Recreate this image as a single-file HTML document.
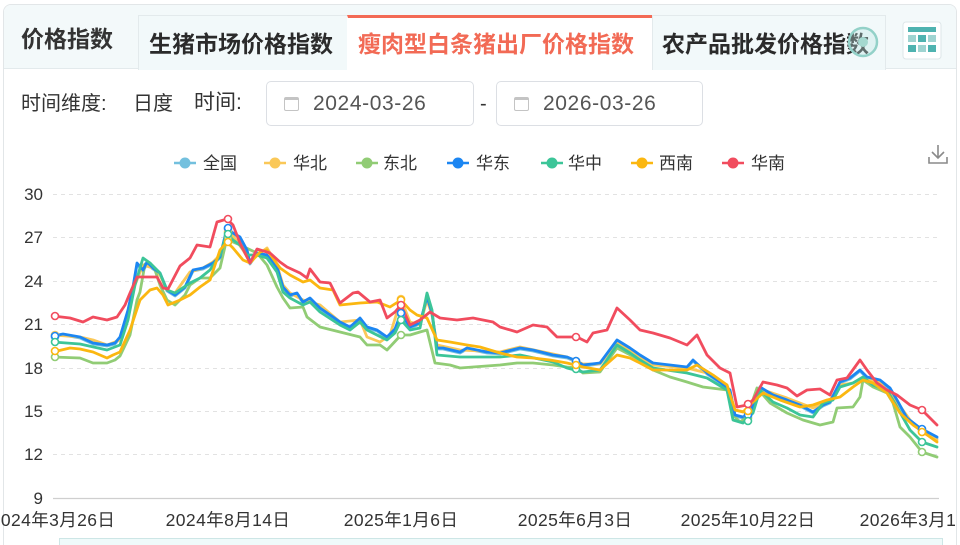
<!DOCTYPE html>
<html><head><meta charset="utf-8">
<style>
*{margin:0;padding:0;box-sizing:border-box}
html,body{width:960px;height:545px;overflow:hidden;background:#fff;font-family:"Liberation Sans","Noto Sans CJK SC",sans-serif;color:#333}
.card{position:absolute;left:3px;top:4px;width:954px;height:541px;border:1px solid #e2e6e8;border-bottom:none;border-radius:8px 8px 0 0;overflow:hidden;background:#fff}
.hdr{position:absolute;left:0;top:0;width:100%;height:64px;background:#f3f9fa;border-bottom:1px solid #e3eaec}
.t{position:absolute;font-weight:bold;font-size:23px;line-height:26px;white-space:nowrap}
.tab{position:absolute;top:10px;height:55px;background:#f2f9fa;border:1px solid #e3eaec;border-bottom:none}
.lbl{position:absolute;font-size:20px;line-height:24px;white-space:nowrap;color:#333}
.inp{position:absolute;top:76px;height:45px;border:1px solid #dcdfe4;border-radius:5px;background:#fff}
.inp span{position:absolute;left:46px;top:10px;font-size:21px;line-height:24px;color:#555;letter-spacing:0.6px}
.cal{position:absolute;left:17px;top:15px;width:15px;height:14px;border:1.5px solid #c4c4c4;border-top-width:3px;border-radius:2px}
.bot{position:absolute;left:55px;top:533px;width:884px;height:12px;background:#effafa;border:1px solid #cde6e6;border-bottom:none}
</style></head><body>
<div class="card">
  <div class="hdr"></div>
  <div class="t" style="left:17px;top:21px;color:#333">价格指数</div>
  <div class="tab" style="left:134px;width:210px"></div>
  <div class="t" style="left:145px;top:26px;color:#2b2b2b">生猪市场价格指数</div>
  <div class="tab" style="left:343px;width:306px;background:#fff;border-color:#fff;border-top:3px solid #f36a55;height:56px"></div>
  <div class="t" style="left:354px;top:26px;color:#f26a55">瘦肉型白条猪出厂价格指数</div>
  <div class="tab" style="left:648px;width:234px"></div>
  <div class="t" style="left:658px;top:26px;color:#2b2b2b">农产品批发价格指数</div>
  <svg style="position:absolute;left:0;top:0" width="954" height="70">
    <circle cx="859" cy="37" r="14" fill="rgba(190,230,225,0.35)" stroke="#93d1c8" stroke-width="2.5"/>
    <circle cx="859" cy="37" r="5" fill="#a4d8cf"/>
    <rect x="899" y="17" width="38" height="37" rx="3" fill="#fff" stroke="#dde6e8"/>
    <rect x="904" y="22" width="28" height="5" fill="#4fb3b0"/>
    <rect x="904" y="30" width="8" height="7" fill="#9fd4d1"/>
    <rect x="914" y="30" width="8" height="7" fill="#4fb3b0"/>
    <rect x="924" y="30" width="8" height="7" fill="#9fd4d1"/>
    <rect x="904" y="40" width="8" height="7" fill="#4fb3b0"/>
    <rect x="914" y="40" width="8" height="7" fill="#9fd4d1"/>
    <rect x="924" y="40" width="8" height="7" fill="#4fb3b0"/>
  </svg>
  <div class="lbl" style="left:17px;top:87px">时间维度:</div>
  <div class="lbl" style="left:129px;top:87px">日度</div>
  <div class="lbl" style="left:190px;top:86px;font-size:21px">时间:</div>
  <div class="inp" style="left:262px;width:208px"><div class="cal"></div><span>2024-03-26</span></div>
  <div class="lbl" style="left:476px;top:87px">-</div>
  <div class="inp" style="left:492px;width:207px"><div class="cal"></div><span>2026-03-26</span></div>
  <div class="bot"></div>
</div>
<svg style="position:absolute;left:0;top:0" width="960" height="545" font-family="Liberation Sans, Noto Sans CJK SC, sans-serif">
  <defs><clipPath id="cp"><rect x="0" y="0" width="956" height="545"/></clipPath></defs>
  <g font-size="17" fill="#333">
    <line x1="174" y1="163" x2="196" y2="163" stroke="#73c0de" stroke-width="2.5"/><circle cx="185" cy="163" r="5.5" fill="#73c0de"/><text x="203" y="169">全国</text>
    <line x1="264" y1="163" x2="286" y2="163" stroke="#fac858" stroke-width="2.5"/><circle cx="275" cy="163" r="5.5" fill="#fac858"/><text x="293" y="169">华北</text>
    <line x1="356" y1="163" x2="378" y2="163" stroke="#91cc75" stroke-width="2.5"/><circle cx="367" cy="163" r="5.5" fill="#91cc75"/><text x="383" y="169">东北</text>
    <line x1="447" y1="163" x2="469" y2="163" stroke="#1c86f2" stroke-width="2.5"/><circle cx="458" cy="163" r="5.5" fill="#1c86f2"/><text x="476" y="169">华东</text>
    <line x1="541" y1="163" x2="563" y2="163" stroke="#3cc598" stroke-width="2.5"/><circle cx="552" cy="163" r="5.5" fill="#3cc598"/><text x="568" y="169">华中</text>
    <line x1="631" y1="163" x2="653" y2="163" stroke="#fbb710" stroke-width="2.5"/><circle cx="642" cy="163" r="5.5" fill="#fbb710"/><text x="659" y="169">西南</text>
    <line x1="722" y1="163" x2="744" y2="163" stroke="#f14c5e" stroke-width="2.5"/><circle cx="733" cy="163" r="5.5" fill="#f14c5e"/><text x="751" y="169">华南</text>
  </g>
  <g stroke="#8a8a8a" stroke-width="1.6" fill="none">
    <path d="M938 145 V158 M932 152 L938 158 L944 152"/>
    <path d="M929 157 V163 H947 V157"/>
  </g>
  <g stroke="#e2e2e2" stroke-width="1" stroke-dasharray="4,4">
    <line x1="53" y1="194.5" x2="939" y2="194.5"/>
    <line x1="53" y1="237.5" x2="939" y2="237.5"/>
    <line x1="53" y1="281.5" x2="939" y2="281.5"/>
    <line x1="53" y1="324.5" x2="939" y2="324.5"/>
    <line x1="53" y1="368.5" x2="939" y2="368.5"/>
    <line x1="53" y1="411.5" x2="939" y2="411.5"/>
    <line x1="53" y1="454.5" x2="939" y2="454.5"/>
  </g>
  <line x1="53" y1="498.5" x2="939" y2="498.5" stroke="#cfcfcf" stroke-width="1.2"/>
  <g font-size="17" fill="#333" text-anchor="end">
    <text x="43" y="200">30</text>
    <text x="43" y="243">27</text>
    <text x="43" y="287">24</text>
    <text x="43" y="330">21</text>
    <text x="43" y="374">18</text>
    <text x="43" y="417">15</text>
    <text x="43" y="460">12</text>
    <text x="43" y="504">9</text>
  </g>
  <g font-size="17.5" fill="#333" text-anchor="middle" clip-path="url(#cp)" letter-spacing="0.4">
    <text x="53" y="526">2024年3月26日</text>
    <text x="228" y="526">2024年8月14日</text>
    <text x="401" y="526">2025年1月6日</text>
    <text x="575" y="526">2025年6月3日</text>
    <text x="748" y="526">2025年10月22日</text>
    <text x="922" y="526">2026年3月13日</text>
  </g>
  <g fill="none" stroke-width="2.8" stroke-linejoin="round" stroke-linecap="round">
    <polyline stroke="#73c0de" points="53,337 63,335 80,338 93,344 107,346 115,344 120,338 128,311 133,288 137,265 143,271 147,264 153,269 160,274 167,291 175,296 185,288 193,271 203,269 213,264 220,258 227,229 233,234 240,238 247,251 250,264 257,254 267,256 277,268 283,288 290,296 297,294 303,303 310,299 320,309 333,318 340,323 350,328 360,319 367,328 377,331 387,338 395,330 401,314 410,328 420,324 427,299 432,314 437,349 443,349 460,353 467,349 487,353 500,354 520,349 533,351 553,356 567,358 577,362 583,366 600,364 617,342 630,349 640,356 653,364 670,366 687,368 693,361 707,374 720,383 730,391 735,416 743,418 750,414 760,388 773,396 787,401 800,406 813,413 823,406 830,403 840,383 850,379 860,371 867,378 880,381 890,389 897,401 907,419 920,429 937,438"/>
    <polyline stroke="#fac858" points="53,335 80,337 93,340 107,345 120,340 128,312 135,285 143,265 153,268 160,275 167,290 175,293 190,272 203,268 213,262 220,255 227,232 233,236 243,250 250,262 260,253 267,248 277,265 283,285 290,293 303,300 320,305 340,322 360,320 367,337 380,342 390,335 401,299 410,322 420,325 427,300 432,315 437,345 460,350 500,352 520,347 553,354 567,357 583,364 600,364 617,342 640,357 653,365 687,368 707,373 727,385 735,410 745,412 753,405 763,390 787,398 813,408 830,400 840,385 853,383 863,378 880,383 897,402 910,420 922,432 937,440"/>
    <polyline stroke="#91cc75" points="53,357 80,358 93,363 107,363 115,360 120,356 130,335 137,300 140,292 145,264 150,263 155,270 160,285 167,300 175,305 185,295 190,285 200,278 210,278 220,268 227,238 233,242 240,245 257,253 267,265 277,287 283,298 290,308 303,307 307,317 320,327 340,332 360,337 367,345 380,345 387,350 401,335 410,335 420,332 427,330 435,363 450,365 460,368 473,367 500,365 517,363 533,363 553,365 567,367 577,368 583,373 600,372 617,348 640,360 653,370 670,377 687,382 703,387 727,390 733,415 740,422 747,417 757,388 770,403 787,413 803,420 820,425 833,422 837,408 853,407 860,397 863,380 873,387 887,393 893,403 900,427 910,437 922,452 937,457"/>
    <polyline stroke="#1c86f2" points="53,336 63,334 80,337 93,343 107,345 115,343 120,337 128,310 133,287 137,263 143,270 147,262 153,268 160,273 167,290 175,295 185,287 193,270 203,268 213,263 220,257 227,228 233,233 240,237 247,250 250,263 257,253 267,255 277,267 283,287 290,295 297,293 303,302 310,298 320,308 333,317 340,322 350,327 360,318 367,327 377,330 387,337 395,329 401,313 410,327 420,323 427,297 432,313 437,348 443,348 460,352 467,348 487,352 500,353 520,348 533,350 553,355 567,357 577,361 583,365 600,363 617,340 630,348 640,355 653,363 670,365 687,367 693,360 707,373 720,382 730,390 735,415 743,417 750,413 760,387 773,395 787,400 800,405 813,412 823,405 830,402 840,382 850,378 860,370 867,377 880,380 890,388 897,400 907,418 920,428 937,437"/>
    <polyline stroke="#3cc598" points="53,342 80,344 107,350 120,345 128,320 135,285 143,258 150,263 160,273 167,290 175,293 190,283 200,278 210,270 220,255 227,233 233,240 240,245 247,255 257,255 267,258 277,272 283,292 290,298 303,305 310,302 320,312 340,325 350,330 360,322 367,330 387,340 395,333 401,320 410,330 420,328 427,293 432,310 437,355 460,357 500,357 520,355 553,362 567,368 583,372 600,370 617,345 630,353 640,360 653,368 687,373 707,378 727,390 733,420 743,423 753,413 760,390 773,402 787,408 800,415 813,417 823,403 833,400 840,387 853,383 863,377 873,385 887,390 897,407 910,430 922,442 937,447"/>
    <polyline stroke="#fbb710" points="53,352 70,348 80,349 93,352 107,358 113,355 120,352 130,330 140,300 150,290 157,288 163,295 168,305 180,300 190,295 200,287 210,280 220,250 227,242 233,248 243,260 250,263 260,252 267,250 280,268 290,275 303,282 310,280 320,288 333,290 340,305 360,303 377,302 390,307 401,300 410,310 417,315 427,318 437,340 450,342 467,345 480,347 490,350 500,353 517,357 533,358 550,360 567,363 583,367 600,370 617,355 630,358 640,363 653,370 687,370 697,365 713,375 727,385 735,410 743,412 753,402 763,393 780,400 800,407 813,405 827,400 840,397 853,387 863,380 873,383 887,393 900,413 913,425 923,432 937,442"/>
    <polyline stroke="#f14c5e" points="53,316 70,318 83,322 93,317 107,320 117,317 125,305 130,293 137,277 150,277 157,277 163,288 168,289 180,266 190,258 197,245 210,247 217,222 227,219 233,225 240,243 250,263 257,249 270,253 280,262 287,267 300,273 307,278 310,269 320,282 330,283 340,303 353,293 358,292 370,302 380,300 387,318 395,312 401,305 410,325 420,320 430,312 440,318 457,320 473,318 493,322 500,327 517,332 533,325 547,327 557,337 577,337 587,342 593,333 607,330 617,308 630,320 640,330 653,333 670,338 687,345 697,335 707,355 720,368 730,373 737,407 747,405 753,400 763,382 777,385 787,388 797,396 807,390 820,389 830,395 837,380 847,378 860,360 867,370 877,383 887,390 897,395 910,405 922,410 937,425"/>
  </g>
  <g fill="#fff" stroke-width="1.6">
    <g stroke="#73c0de"><circle cx="55" cy="337" r="3.5"/><circle cx="228" cy="229" r="3.5"/><circle cx="401" cy="314" r="3.5"/><circle cx="576" cy="362" r="3.5"/><circle cx="748" cy="416" r="3.5"/><circle cx="922" cy="430" r="3.5"/></g>
    <g stroke="#fac858"><circle cx="55" cy="335" r="3.5"/><circle cx="228" cy="232" r="3.5"/><circle cx="401" cy="299" r="3.5"/><circle cx="576" cy="361" r="3.5"/><circle cx="748" cy="411" r="3.5"/><circle cx="922" cy="432" r="3.5"/></g>
    <g stroke="#91cc75"><circle cx="55" cy="357" r="3.5"/><circle cx="228" cy="238" r="3.5"/><circle cx="401" cy="335" r="3.5"/><circle cx="576" cy="368" r="3.5"/><circle cx="748" cy="418" r="3.5"/><circle cx="922" cy="452" r="3.5"/></g>
    <g stroke="#1c86f2"><circle cx="55" cy="336" r="3.5"/><circle cx="228" cy="228" r="3.5"/><circle cx="401" cy="313" r="3.5"/><circle cx="576" cy="361" r="3.5"/><circle cx="748" cy="415" r="3.5"/><circle cx="922" cy="429" r="3.5"/></g>
    <g stroke="#3cc598"><circle cx="55" cy="342" r="3.5"/><circle cx="228" cy="234" r="3.5"/><circle cx="401" cy="320" r="3.5"/><circle cx="576" cy="369" r="3.5"/><circle cx="748" cy="421" r="3.5"/><circle cx="922" cy="442" r="3.5"/></g>
    <g stroke="#fbb710"><circle cx="55" cy="351" r="3.5"/><circle cx="228" cy="242" r="3.5"/><circle cx="401" cy="300" r="3.5"/><circle cx="576" cy="365" r="3.5"/><circle cx="748" cy="411" r="3.5"/><circle cx="922" cy="432" r="3.5"/></g>
    <g stroke="#f14c5e"><circle cx="55" cy="316" r="3.5"/><circle cx="228" cy="219" r="3.5"/><circle cx="401" cy="305" r="3.5"/><circle cx="576" cy="337" r="3.5"/><circle cx="748" cy="404" r="3.5"/><circle cx="922" cy="410" r="3.5"/></g>
  </g>
</svg>
</body></html>
